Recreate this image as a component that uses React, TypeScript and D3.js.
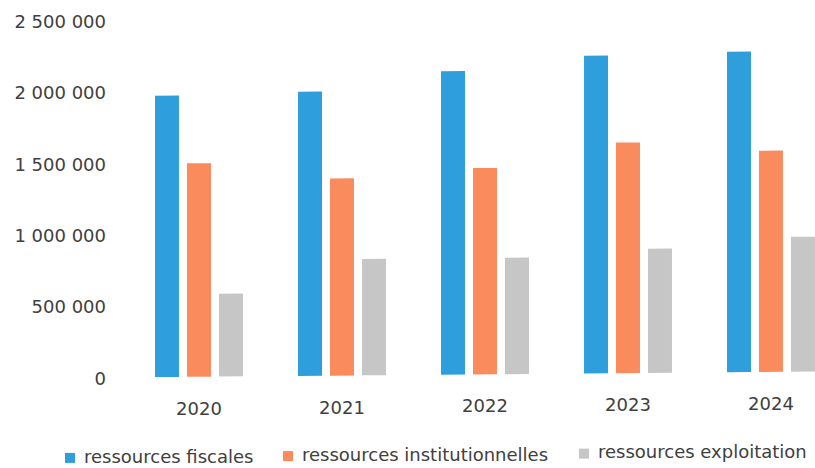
import React from "react";
import * as d3 from "d3";

const years = ["2020", "2021", "2022", "2023", "2024"];
const seriesNames = [
  "ressources fiscales",
  "ressources institutionnelles",
  "ressources exploitation",
];
const fiscales = [1970000, 1990000, 2125000, 2225000, 2245000];
const institutionnelles = [1495000, 1380000, 1445000, 1615000, 1550000];
const exploitation = [580000, 815000, 815000, 870000, 945000];
const yTicks = [0, 500000, 1000000, 1500000, 2000000, 2500000];
const colors = ["#2E9EDD", "#F98B5D", "#C6C6C6"];

const W = 815;
const H = 468;
const FONT = "'DejaVu Sans', sans-serif";
const TEXT = "#404040";
// the whole layout leans slightly upward to the right
const TILT = Math.tan((0.48 * Math.PI) / 180);
const lean = (x: number) => -x * TILT;

const fmt = (v: number) => d3.format(",")(v).replace(/,/g, " ");

export default function App() {
  const series = [fiscales, institutionnelles, exploitation];

  const y = d3.scaleLinear().domain([0, 2500000]).range([378.4, 21.4]);
  const x0 = d3
    .scaleBand<string>()
    .domain(years)
    .range([127.5, 842.5])
    .paddingInner(0.385)
    .paddingOuter(0.1925);
  const x1 = d3
    .scaleBand<string>()
    .domain(seriesNames)
    .range([0, x0.bandwidth()])
    .paddingInner(0.25);

  const legendX = [65, 283, 579];
  const legendW = [180, 262, 225];
  const legendBase = 464;

  return (
    <svg
      width={W}
      height={H}
      style={{ position: "absolute", left: 0, top: 0, background: "#fff" }}
    >
      <rect width={W} height={H} fill="#fff" />

      {/* value axis labels */}
      {yTicks.map((t) => (
        <text
          key={t}
          x={106}
          y={y(t) + 2 + lean(60)}
          textAnchor="end"
          dominantBaseline="middle"
          fontFamily={FONT}
          fontSize={18}
          fill={TEXT}
        >
          {fmt(t)}
        </text>
      ))}

      {/* grouped bars */}
      <g transform={`skewY(-0.48)`}>
        {years.map((yr, i) => (
          <g key={yr} transform={`translate(${x0(yr)},0)`}>
            {series.map((s, j) => (
              <rect
                key={j}
                x={x1(seriesNames[j])}
                y={y(s[i])}
                width={x1.bandwidth()}
                height={y(0) - y(s[i])}
                fill={colors[j]}
              />
            ))}
          </g>
        ))}
      </g>

      {/* category labels */}
      {years.map((yr) => {
        const cx = (x0(yr) as number) + x0.bandwidth() / 2;
        return (
          <text
            key={yr}
            x={cx}
            y={416.5 + lean(cx)}
            textAnchor="middle"
            fontFamily={FONT}
            fontSize={18}
            fill={TEXT}
          >
            {yr}
          </text>
        );
      })}

      {/* legend */}
      {seriesNames.map((name, j) => {
        const lx = legendX[j];
        const dy = lean(lx + legendW[j] / 2);
        return (
          <g key={name}>
            <rect
              x={lx}
              y={legendBase - 10.5 + lean(lx + 5)}
              width={10}
              height={10}
              fill={colors[j]}
            />
            <text
              x={lx + 19}
              y={legendBase + dy}
              fontFamily={FONT}
              fontSize={18}
              fill={TEXT}
            >
              {name}
            </text>
          </g>
        );
      })}
    </svg>
  );
}
